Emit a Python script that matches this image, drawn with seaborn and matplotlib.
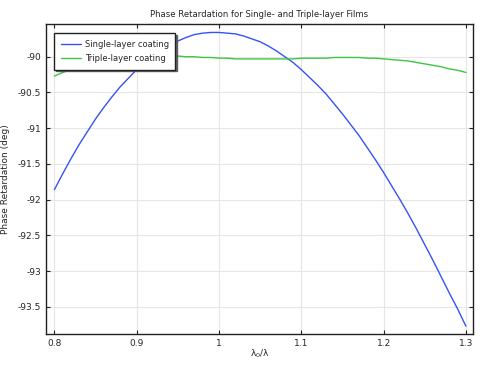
import matplotlib

matplotlib.use('Agg')

import numpy as np
import pandas as pd
import seaborn as sns
from matplotlib import pyplot as plt
from matplotlib.ticker import FuncFormatter, MultipleLocator

# normalized frequency lambda0/lambda
ratio = [0.80, 0.81, 0.82, 0.83, 0.84, 0.85, 0.86, 0.87, 0.88, 0.89,
         0.90, 0.91, 0.92, 0.93, 0.94, 0.95, 0.96, 0.97, 0.98, 0.99,
         1.00, 1.01, 1.02, 1.03, 1.04, 1.05, 1.06, 1.07, 1.08, 1.09,
         1.10, 1.11, 1.12, 1.13, 1.14, 1.15, 1.16, 1.17, 1.18, 1.19,
         1.20, 1.21, 1.22, 1.23, 1.24, 1.25, 1.26, 1.27, 1.28, 1.29,
         1.30]

# phase retardation (deg)
single_layer = [-91.86, -91.64, -91.43, -91.23, -91.05, -90.87, -90.71, -90.56, -90.42, -90.30,
                -90.18, -90.08, -89.98, -89.90, -89.83, -89.78, -89.73, -89.69, -89.67, -89.66,
                -89.66, -89.67, -89.68, -89.71, -89.75, -89.79, -89.85, -89.92, -90.00, -90.08,
                -90.18, -90.29, -90.40, -90.52, -90.66, -90.80, -90.95, -91.10, -91.27, -91.44,
                -91.62, -91.81, -92.00, -92.20, -92.41, -92.63, -92.85, -93.08, -93.31, -93.53,
                -93.77]
triple_layer = [-90.27, -90.22, -90.18, -90.14, -90.11, -90.09, -90.07, -90.05, -90.04, -90.03,
                -90.02, -90.01, -90.00, -90.00, -89.99, -89.99, -90.00, -90.00, -90.01, -90.01,
                -90.02, -90.02, -90.03, -90.03, -90.03, -90.03, -90.03, -90.03, -90.03, -90.03,
                -90.02, -90.02, -90.02, -90.02, -90.01, -90.01, -90.01, -90.01, -90.02, -90.02,
                -90.03, -90.04, -90.05, -90.06, -90.08, -90.10, -90.12, -90.14, -90.17, -90.19,
                -90.22]

series_names = ["Single-layer coating", "Triple-layer coating"]
colors = ["#3553f5", "#3cc646"]

df = pd.DataFrame({
    "ratio": ratio * 2,
    "phase": single_layer + triple_layer,
    "series": [series_names[0]] * len(ratio) + [series_names[1]] * len(ratio),
})

sns.set_style("ticks")
plt.rcParams['font.family'] = ['DejaVu Sans']
plt.rcParams['axes.unicode_minus'] = False

fig = plt.figure(figsize=(4.86, 3.65), dpi=100)
ax = fig.add_axes([0.095, 0.085, 0.878, 0.849])

sns.lineplot(data=df, x="ratio", y="phase", hue="series", palette=colors,
             linewidth=1.0, ax=ax)

ax.set_xlim(0.79, 1.3085)
ax.set_ylim(-93.88, -89.543)
ax.xaxis.set_major_locator(MultipleLocator(0.1))
ax.yaxis.set_major_locator(MultipleLocator(0.5))
ax.xaxis.set_major_formatter(FuncFormatter(lambda v, p: "%g" % round(v, 3)))
ax.yaxis.set_major_formatter(FuncFormatter(lambda v, p: "%g" % round(v, 3)))

ax.grid(True, color="#e6e6e6", linewidth=0.8)
ax.tick_params(direction="in", length=3, width=0.8, labelsize=6.5,
               top=True, right=True, color="#222222")
for s in ax.spines.values():
    s.set_color("#222222")
    s.set_linewidth(1.0)

ax.set_title("Phase Retardation for Single- and Triple-layer Films", fontsize=6.1, pad=5)
ax.set_xlabel(r"$\mathregular{\lambda_0/\lambda}$", fontsize=6.5, labelpad=0)
ax.set_ylabel("Phase Retardation (deg)", fontsize=6.5, labelpad=6)

leg = ax.legend(loc="upper left", bbox_to_anchor=(0.018, 0.97), fontsize=6.0,
                frameon=True, fancybox=False,
                shadow={'ox': 1.2, 'oy': -1.2, 'color': '#555555', 'alpha': 0.9},
                borderpad=0.8, handlelength=2.5, handletextpad=0.4,
                labelspacing=0.6, borderaxespad=0)
leg.get_frame().set_edgecolor("#222222")
leg.get_frame().set_linewidth(1.0)
leg.get_frame().set_alpha(1)

fig.savefig("out.png", dpi=100)
